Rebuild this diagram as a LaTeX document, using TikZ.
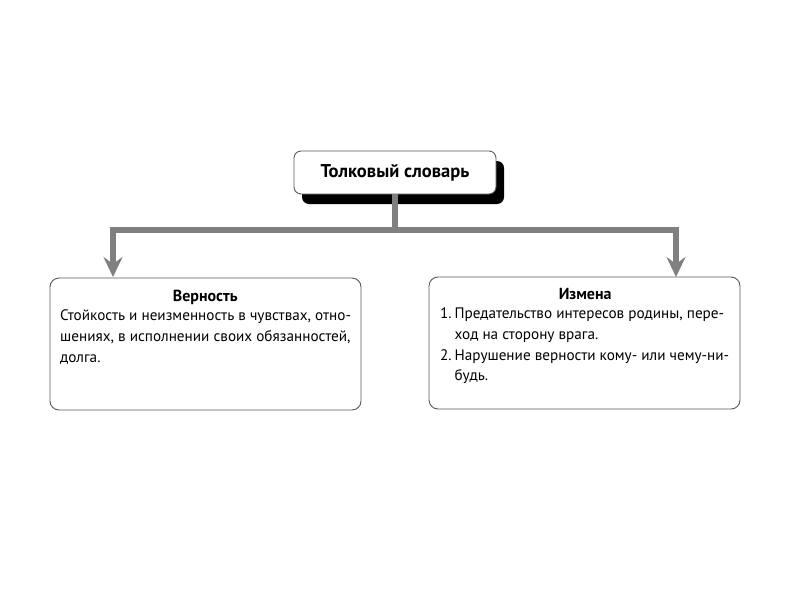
\documentclass[tikz,border=0pt]{standalone}
\usepackage{fontspec}
\setmainfont{PT Sans}
\usetikzlibrary{arrows.meta,shadows}
\definecolor{conn}{RGB}{128,128,128}
\definecolor{edge}{RGB}{90,90,90}
\tikzset{
  topbox/.style={draw=edge, line width=0.9pt, fill=white, rounded corners=7pt,
    minimum width=202pt, minimum height=43pt, inner sep=0pt,
    drop shadow={shadow xshift=8pt, shadow yshift=-10pt, fill=black, opacity=1}},
  infobox/.style={draw=edge, line width=0.9pt, fill=white, rounded corners=9pt,
    minimum width=311pt, minimum height=132pt, inner sep=0pt},
  infotext/.style={anchor=north west, inner sep=0pt, align=left, font=\fontsize{15.2}{20.7}\selectfont},
  connline/.style={draw=conn, line width=6.5pt},
  tip/.style={-{Stealth[length=20pt, width=19pt, inset=7pt]}}
}
\newcommand{\numitem}[1]{\makebox[14.5pt][l]{#1}}
\begin{document}
\begin{tikzpicture}[x=1pt,y=-1pt]
\useasboundingbox (0,0) rectangle (800,600);
\fill[white] (0,0) rectangle (800,600);
\node[topbox, font=\fontsize{18.5}{22}\selectfont\bfseries] (top) at (395,172.5) {Толковый словарь};
\node[infobox] (left) at (205.5,344) {};
\node[infobox] (right) at (584.5,343) {};
\coordinate (j) at (top.south |- 0,230);
\coordinate (la) at (113,277);
\coordinate (ra) at (676,277);
\draw[connline] (top.south) -- (j);
\draw[connline, tip] (j) -| (la);
\draw[connline, tip] (j) -| (ra);
\node[infotext] (lt) at (60,290) {\makebox[290pt][c]{\fontsize{16}{20}\selectfont\bfseries Верность}\\[-1.5pt]
Стойкость и неизменность в чувствах, отно-\\
шениях, в исполнении своих обязанностей,\\
долга.};
\node[infotext] (rt) at (440,288) {\makebox[290pt][c]{\fontsize{16}{20}\selectfont\bfseries Измена}\\[-1.5pt]
\numitem{1.}Предательство интересов родины, пере-\\
\numitem{}ход на сторону врага.\\
\numitem{2.}Нарушение верности кому- или чему-ни-\\
\numitem{}будь.};
\end{tikzpicture}
\end{document}
